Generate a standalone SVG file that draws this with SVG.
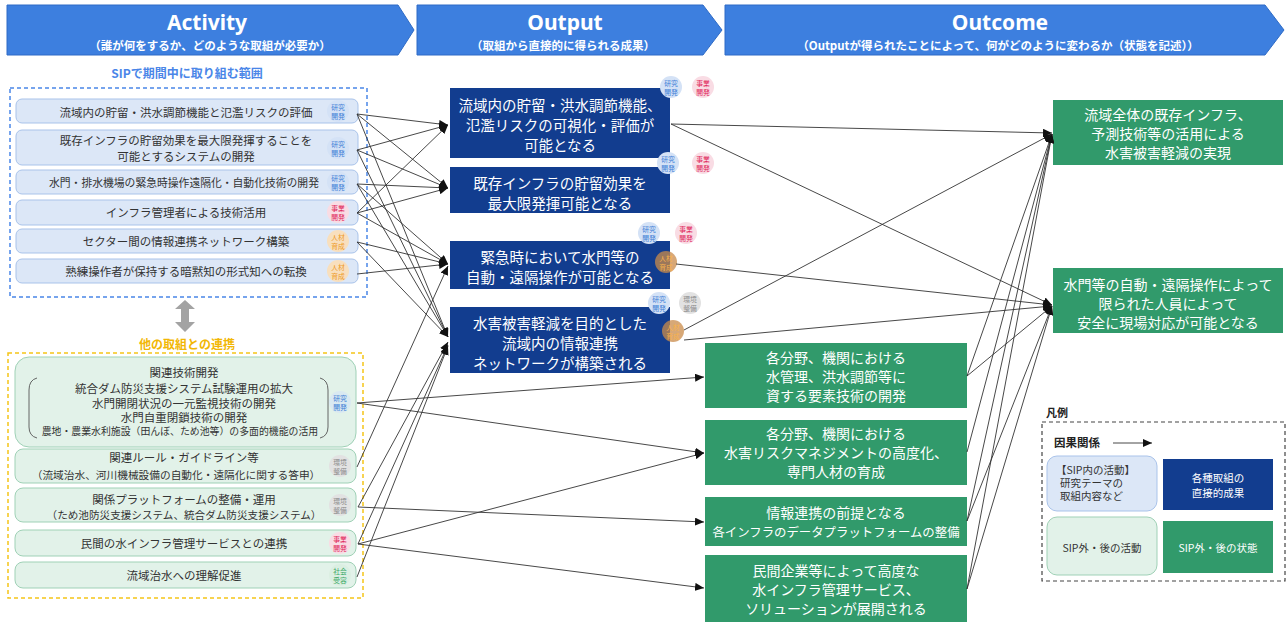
<svg xmlns="http://www.w3.org/2000/svg" width="1288" height="624" viewBox="0 0 1288 624">
  <defs>
    <marker id="ah" markerUnits="userSpaceOnUse" markerWidth="9" markerHeight="8" refX="9" refY="4" orient="auto">
      <path d="M0,0 L9,4 L0,8 z" fill="#111"/>
    </marker>
    <style>
      .t{font-family:"Noto Sans CJK JP","Noto Sans",sans-serif;text-anchor:middle;dominant-baseline:central}
      .act{font-size:11.5px;fill:#333}
      .sm{font-size:10.2px;fill:#333}
      .out{font-size:14.5px;fill:#fff}
      .grn{font-size:14px;fill:#fff}
      .bd{font-size:6.8px}
      .banner{fill:#3d7fdf;stroke:#2e6bc6;stroke-width:1}
      .bt{font-family:"Noto Sans","Open Sans",sans-serif;font-weight:bold;font-size:21px;fill:#fff;text-anchor:middle}
      .bs{font-family:"Noto Sans CJK JP",sans-serif;font-weight:bold;font-size:11.5px;fill:#fff;text-anchor:middle}
      .abox{fill:#dce7f7;stroke:#a9c3ea;stroke-width:1}
      .gbox{fill:#e2f2e9;stroke:#9fd1b6;stroke-width:1}
      .obox{fill:#123d8f}
      .ggbox{fill:#319a6b}
      .b-blue{fill:#d4e2f6}.tx-blue{fill:#3f7fd6}
      .b-red{fill:#f9dce4}.tx-red{fill:#e0245a}
      .b-org{fill:#f8dfbd}.tx-org{fill:#ee9a25}
      .b-gry{fill:#e2e2e2}.tx-gry{fill:#8a8a8a}
      .b-grn{fill:#dbefe2}.tx-grn{fill:#3aa864}
      .b-org2{fill:#c98b4a;opacity:0.75}.tx-org2{fill:#f7b24c}
      .cn line{stroke:#333;stroke-width:0.9;marker-end:url(#ah)}
    </style>
  </defs>

  <rect width="1288" height="624" fill="#fff"/>

  <!-- column headers -->
  <g id="header-activity">
    <polygon class="banner" points="7,5 398,5 414,30 398,55 7,55"/>
    <text class="bt" x="207" y="30">Activity</text>
    <text class="bs" x="210" y="50">（誰が何をするか、どのような取組が必要か）</text>
  </g>
  <g id="header-output">
    <polygon class="banner" points="417,5 703,5 722,30 703,55 417,55"/>
    <text class="bt" x="565" y="30">Output</text>
    <text class="bs" x="563" y="50">（取組から直接的に得られる成果）</text>
  </g>
  <g id="header-outcome">
    <polygon class="banner" points="725,5 1265,5 1284,30 1265,55 725,55"/>
    <text class="bt" x="1000" y="30">Outcome</text>
    <text class="bs" x="998" y="50">（Outputが得られたことによって、何がどのように変わるか（状態を記述））</text>
  </g>

  <!-- SIP scope -->
  <text class="t" x="187" y="72" style="font-size:12px;font-weight:bold;fill:#4a86e8">SIPで期間中に取り組む範囲</text>
  <rect x="10" y="88" width="357" height="209" fill="none" stroke="#4a86e8" stroke-width="1.5" stroke-dasharray="4 3"/>

  <g id="a1">
    <rect class="abox" x="16" y="99" width="342" height="24" rx="6"/>
    <text class="t act" x="186" y="112">流域内の貯留・洪水調節機能と氾濫リスクの評価</text>
    <circle class="b-blue" cx="338" cy="111" r="11"/>
    <text class="t bd tx-blue" x="338" y="106.5">研究</text><text class="t bd tx-blue" x="338" y="116">開発</text>
  </g>
  <g id="a2">
    <rect class="abox" x="16" y="130" width="342" height="35" rx="6"/>
    <text class="t act" x="186" y="140">既存インフラの貯留効果を最大限発揮することを</text>
    <text class="t act" x="186" y="156">可能とするシステムの開発</text>
    <circle class="b-blue" cx="338" cy="148" r="11"/>
    <text class="t bd tx-blue" x="338" y="143.5">研究</text><text class="t bd tx-blue" x="338" y="153">開発</text>
  </g>
  <g id="a3">
    <rect class="abox" x="16" y="170" width="342" height="24" rx="6"/>
    <text class="t act" x="184" y="182" style="font-size:10.8px">水門・排水機場の緊急時操作遠隔化・自動化技術の開発</text>
    <circle class="b-blue" cx="338" cy="182" r="11"/>
    <text class="t bd tx-blue" x="338" y="177.5">研究</text><text class="t bd tx-blue" x="338" y="187">開発</text>
  </g>
  <g id="a4">
    <rect class="abox" x="16" y="200" width="342" height="25" rx="6"/>
    <text class="t act" x="186" y="212">インフラ管理者による技術活用</text>
    <circle class="b-red" cx="338" cy="212" r="11"/>
    <text class="t bd tx-red" x="338" y="207.5">事業</text><text class="t bd tx-red" x="338" y="217">開発</text>
  </g>
  <g id="a5">
    <rect class="abox" x="16" y="229" width="342" height="24" rx="6"/>
    <text class="t act" x="186" y="241">セクター間の情報連携ネットワーク構築</text>
    <circle class="b-org" cx="338" cy="241" r="11"/>
    <text class="t bd tx-org" x="338" y="236.5">人材</text><text class="t bd tx-org" x="338" y="246">育成</text>
  </g>
  <g id="a6">
    <rect class="abox" x="16" y="259" width="342" height="24" rx="6"/>
    <text class="t act" x="186" y="271">熟練操作者が保持する暗黙知の形式知への転換</text>
    <circle class="b-org" cx="338" cy="271" r="11"/>
    <text class="t bd tx-org" x="338" y="266.5">人材</text><text class="t bd tx-org" x="338" y="276">育成</text>
  </g>

  <!-- link between scopes -->
  <polygon points="185,300 195,309 189,309 189,322 195,322 185,332 175,322 181,322 181,309 175,309" fill="#a3a3a3"/>

  <!-- other initiatives -->
  <text class="t" x="187" y="343" style="font-size:12px;font-weight:bold;fill:#f2b705">他の取組との連携</text>
  <rect x="8" y="353" width="355" height="245" fill="none" stroke="#f5c518" stroke-width="1.5" stroke-dasharray="4 3"/>

  <g id="b1">
    <rect class="gbox" x="15" y="357" width="341" height="90" rx="14"/>
    <text class="t act" x="184" y="372">関連技術開発</text>
    <text class="t act" x="184" y="388">統合ダム防災支援システム試験運用の拡大</text>
    <text class="t act" x="184" y="403">水門開閉状況の一元監視技術の開発</text>
    <text class="t act" x="184" y="417">水門自重閉鎖技術の開発</text>
    <text class="t sm" x="180" y="431" style="font-size:9.9px">農地・農業水利施設（田んぼ、ため池等）の多面的機能の活用</text>
    <path d="M37,378 Q29,380 29,390 L29,427 Q29,436 37,438" fill="none" stroke="#555" stroke-width="0.9"/>
    <path d="M320,378 Q328,380 328,390 L328,427 Q328,436 320,438" fill="none" stroke="#555" stroke-width="0.9"/>
    <circle class="b-blue" cx="340" cy="402" r="11" opacity="0.6"/>
    <text class="t bd tx-blue" x="340" y="397.5">研究</text><text class="t bd tx-blue" x="340" y="407">開発</text>
  </g>
  <g id="b2">
    <rect class="gbox" x="15" y="449" width="341" height="34" rx="8"/>
    <text class="t act" x="184" y="457">関連ルール・ガイドライン等</text>
    <text class="t act" x="176" y="474" style="font-size:10.7px">（流域治水、河川機械設備の自動化・遠隔化に関する答申）</text>
    <circle class="b-gry" cx="340" cy="466" r="11"/>
    <text class="t bd tx-gry" x="340" y="461.5">環境</text><text class="t bd tx-gry" x="340" y="471">整備</text>
  </g>
  <g id="b3">
    <rect class="gbox" x="15" y="488" width="341" height="34" rx="8"/>
    <text class="t act" x="184" y="499">関係プラットフォームの整備・運用</text>
    <text class="t act" x="184" y="514" style="font-size:10.6px">（ため池防災支援システム、統合ダム防災支援システム）</text>
    <circle class="b-gry" cx="340" cy="505" r="11"/>
    <text class="t bd tx-gry" x="340" y="500.5">環境</text><text class="t bd tx-gry" x="340" y="510">整備</text>
  </g>
  <g id="b4">
    <rect class="gbox" x="15" y="530" width="341" height="26" rx="8"/>
    <text class="t act" x="184" y="543">民間の水インフラ管理サービスとの連携</text>
    <circle class="b-red" cx="340" cy="543" r="11"/>
    <text class="t bd tx-red" x="340" y="538.5">事業</text><text class="t bd tx-red" x="340" y="548">開発</text>
  </g>
  <g id="b5">
    <rect class="gbox" x="15" y="562" width="341" height="26" rx="8"/>
    <text class="t act" x="184" y="575">流域治水への理解促進</text>
    <circle class="b-grn" cx="340" cy="575" r="11"/>
    <text class="t bd tx-grn" x="340" y="570.5">社会</text><text class="t bd tx-grn" x="340" y="580">受容</text>
  </g>

  <!-- outputs -->
  <g id="o1">
    <rect class="obox" x="450" y="88" width="220" height="70"/>
    <text class="t out" x="560" y="104">流域内の貯留・洪水調節機能、</text>
    <text class="t out" x="560" y="124">氾濫リスクの可視化・評価が</text>
    <text class="t out" x="560" y="144">可能となる</text>
    <circle class="b-blue" cx="671" cy="87" r="11"/>
    <text class="t bd tx-blue" x="671" y="82.5">研究</text><text class="t bd tx-blue" x="671" y="92">開発</text>
    <circle class="b-red" cx="703" cy="87" r="11"/>
    <text class="t bd tx-red" x="703" y="82.5">事業</text><text class="t bd tx-red" x="703" y="92">開発</text>
  </g>
  <g id="o2">
    <rect class="obox" x="450" y="167" width="220" height="46"/>
    <text class="t out" x="560" y="182">既存インフラの貯留効果を</text>
    <text class="t out" x="560" y="202">最大限発揮可能となる</text>
    <circle class="b-blue" cx="668" cy="163" r="11"/>
    <text class="t bd tx-blue" x="668" y="158.5">研究</text><text class="t bd tx-blue" x="668" y="168">開発</text>
    <circle class="b-red" cx="703" cy="163" r="11"/>
    <text class="t bd tx-red" x="703" y="158.5">事業</text><text class="t bd tx-red" x="703" y="168">開発</text>
  </g>
  <g id="o3">
    <rect class="obox" x="450" y="241" width="220" height="48"/>
    <text class="t out" x="560" y="256">緊急時において水門等の</text>
    <text class="t out" x="560" y="276">自動・遠隔操作が可能となる</text>
    <circle class="b-blue" cx="649" cy="233" r="11"/>
    <text class="t bd tx-blue" x="649" y="228.5">研究</text><text class="t bd tx-blue" x="649" y="238">開発</text>
    <circle class="b-red" cx="686" cy="233" r="11"/>
    <text class="t bd tx-red" x="686" y="228.5">事業</text><text class="t bd tx-red" x="686" y="238">開発</text>
    <circle class="b-org2" cx="666" cy="262" r="11"/>
    <text class="t bd tx-org2" x="666" y="257.5">人材</text><text class="t bd tx-org2" x="666" y="267">育成</text>
  </g>
  <g id="o4">
    <rect class="obox" x="450" y="307" width="220" height="66"/>
    <text class="t out" x="560" y="322">水害被害軽減を目的とした</text>
    <text class="t out" x="560" y="342">流域内の情報連携</text>
    <text class="t out" x="560" y="362">ネットワークが構築される</text>
    <circle class="b-blue" cx="659" cy="303" r="11"/>
    <text class="t bd tx-blue" x="659" y="298.5">研究</text><text class="t bd tx-blue" x="659" y="308">開発</text>
    <circle class="b-gry" cx="690" cy="303" r="11"/>
    <text class="t bd tx-gry" x="690" y="298.5">環境</text><text class="t bd tx-gry" x="690" y="308">整備</text>
    <circle class="b-org2" cx="673" cy="331" r="11"/>
    <text class="t bd tx-org2" x="673" y="326.5">人材</text><text class="t bd tx-org2" x="673" y="336">育成</text>
  </g>

  <g id="g1">
    <rect class="ggbox" x="705" y="343" width="262" height="65"/>
    <text class="t grn" x="836" y="357">各分野、機関における</text>
    <text class="t grn" x="836" y="376">水管理、洪水調節等に</text>
    <text class="t grn" x="836" y="395">資する要素技術の開発</text>
  </g>
  <g id="g2">
    <rect class="ggbox" x="705" y="420" width="262" height="65"/>
    <text class="t grn" x="836" y="433">各分野、機関における</text>
    <text class="t grn" x="836" y="452">水害リスクマネジメントの高度化、</text>
    <text class="t grn" x="836" y="471">専門人材の育成</text>
  </g>
  <g id="g3">
    <rect class="ggbox" x="705" y="497" width="262" height="49"/>
    <text class="t grn" x="836" y="512">情報連携の前提となる</text>
    <text class="t grn" x="836" y="532" style="font-size:12.4px">各インフラのデータプラットフォームの整備</text>
  </g>
  <g id="g4">
    <rect class="ggbox" x="705" y="555" width="262" height="67"/>
    <text class="t grn" x="836" y="570">民間企業等によって高度な</text>
    <text class="t grn" x="836" y="589">水インフラ管理サービス、</text>
    <text class="t grn" x="836" y="608">ソリューションが展開される</text>
  </g>

  <!-- outcomes -->
  <g id="oc1">
    <rect class="ggbox" x="1053" y="100" width="230" height="65"/>
    <text class="t grn" x="1168" y="114">流域全体の既存インフラ、</text>
    <text class="t grn" x="1168" y="133">予測技術等の活用による</text>
    <text class="t grn" x="1168" y="152">水害被害軽減の実現</text>
  </g>
  <g id="oc2">
    <rect class="ggbox" x="1053" y="268" width="230" height="65"/>
    <text class="t grn" x="1168" y="284">水門等の自動・遠隔操作によって</text>
    <text class="t grn" x="1168" y="303">限られた人員によって</text>
    <text class="t grn" x="1168" y="322">安全に現場対応が可能となる</text>
  </g>

  <!-- legend -->
  <g id="legend">
    <text x="1046" y="417" style="font-family:'Noto Sans CJK JP',sans-serif;font-size:11px;font-weight:bold;fill:#222">凡例</text>
    <rect x="1042" y="422" width="243" height="159" fill="none" stroke="#444" stroke-width="1.2" stroke-dasharray="4 3"/>
    <text x="1054" y="447" style="font-family:'Noto Sans CJK JP',sans-serif;font-size:11.5px;font-weight:bold;fill:#222">因果関係</text>
    <line x1="1113" y1="443" x2="1152" y2="443" stroke="#333" stroke-width="0.9" marker-end="url(#ah)"/>
    <rect class="abox" x="1047" y="456" width="110" height="55" rx="10"/>
    <text x="1056" y="474" style="font-family:'Noto Sans CJK JP',sans-serif;font-size:10.5px;fill:#333">【SIP内の活動】</text>
    <text x="1060" y="487" style="font-family:'Noto Sans CJK JP',sans-serif;font-size:10.5px;fill:#333">研究テーマの</text>
    <text x="1060" y="500" style="font-family:'Noto Sans CJK JP',sans-serif;font-size:10.5px;fill:#333">取組内容など</text>
    <rect class="obox" x="1163" y="459" width="110" height="51"/>
    <text class="t" x="1218" y="477" style="font-size:10.5px;fill:#fff">各種取組の</text>
    <text class="t" x="1218" y="492" style="font-size:10.5px;fill:#fff">直接的成果</text>
    <rect class="gbox" x="1047" y="517" width="110" height="58" rx="10"/>
    <text class="t" x="1102" y="547" style="font-size:10.5px;fill:#333">SIP外・後の活動</text>
    <rect class="ggbox" x="1163" y="521" width="110" height="52"/>
    <text class="t" x="1218" y="547" style="font-size:10.5px;fill:#fff">SIP外・後の状態</text>
  </g>

  <!-- causal connectors -->
  <g id="connectors" class="cn">
    <line x1="357" y1="114" x2="448" y2="125"/>
    <line x1="357" y1="114" x2="448" y2="188"/>
    <line x1="357" y1="114" x2="448" y2="337"/>
    <line x1="357" y1="150" x2="448" y2="125"/>
    <line x1="357" y1="150" x2="448" y2="188"/>
    <line x1="357" y1="150" x2="448" y2="337"/>
    <line x1="357" y1="184" x2="448" y2="188"/>
    <line x1="357" y1="184" x2="448" y2="264"/>
    <line x1="357" y1="184" x2="448" y2="337"/>
    <line x1="357" y1="213" x2="448" y2="125"/>
    <line x1="357" y1="213" x2="448" y2="188"/>
    <line x1="357" y1="213" x2="448" y2="264"/>
    <line x1="357" y1="242" x2="448" y2="264"/>
    <line x1="357" y1="242" x2="448" y2="337"/>
    <line x1="357" y1="274" x2="448" y2="264"/>

    <line x1="357" y1="403" x2="704" y2="377"/>
    <line x1="357" y1="403" x2="704" y2="453"/>
    <line x1="357" y1="467" x2="448" y2="266"/>
    <line x1="358" y1="507" x2="448" y2="342"/>
    <line x1="358" y1="507" x2="704" y2="522"/>
    <line x1="358" y1="544" x2="448" y2="345"/>
    <line x1="358" y1="544" x2="704" y2="453"/>
    <line x1="358" y1="544" x2="704" y2="588"/>
    <line x1="357" y1="577" x2="448" y2="346"/>

    <line x1="671" y1="124" x2="1052" y2="133"/>
    <line x1="671" y1="124" x2="1052" y2="305"/>
    <line x1="676" y1="264" x2="1052" y2="305"/>
    <line x1="684" y1="330" x2="1052" y2="134"/>
    <line x1="684" y1="340" x2="1052" y2="306"/>

    <line x1="967" y1="376" x2="1052" y2="134"/>
    <line x1="967" y1="376" x2="1052" y2="306"/>
    <line x1="967" y1="452" x2="1052" y2="134"/>
    <line x1="967" y1="521" x2="1052" y2="134"/>
    <line x1="967" y1="521" x2="1052" y2="306"/>
    <line x1="967" y1="589" x2="1052" y2="134"/>
    <line x1="967" y1="589" x2="1052" y2="306"/>
  </g>
</svg>
